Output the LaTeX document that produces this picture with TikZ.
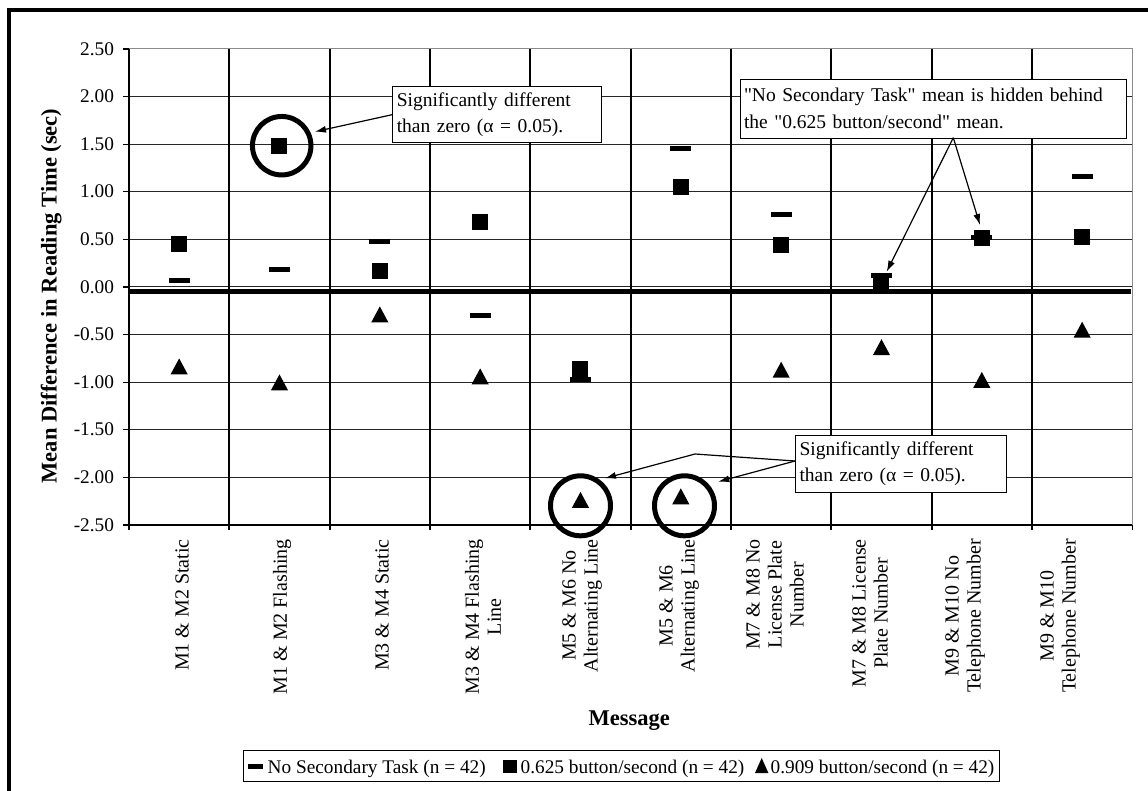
\documentclass[tikz,border=0pt]{standalone}
\usepackage{fontspec}
\setmainfont{Liberation Serif}
\usetikzlibrary{arrows.meta,calc}
\pgfmathdeclarefunction{vy}{1}{\pgfmathparse{286.9-95.2*(#1)}}
\pgfmathdeclarefunction{colx}{1}{\pgfmathparse{129+100.33*((#1)-0.5)}}
\newcommand{\qq}{\XeTeXglyph\XeTeXcharglyph"22\relax}
\tikzset{
  tri/.pic={\fill[black] (-8.6,8) -- (8.6,8) -- (0,-8) -- cycle;},
  legtri/.pic={\fill[black] (-6.7,7.5) -- (6.7,7.5) -- (0,-7.5) -- cycle;}
}
\begin{document}
\begin{tikzpicture}[x=1pt,y=-1pt,
  txt/.style={font=\fontsize{19.3}{21.7}\selectfont, inner sep=0pt, outer sep=0pt},
  ylab/.style={txt, anchor=east},
  catlab/.style={font=\fontsize{20}{22}\selectfont, inner sep=0pt, outer sep=0pt, rotate=90, anchor=east, align=center},
  note/.style={draw=black, line width=1pt, fill=white, anchor=north west, align=left,
    font=\fontsize{19.5}{26.7}\selectfont, inner ysep=0pt},
  gridline/.style={draw=black!85, line width=0.9pt},
  sepline/.style={draw=black, line width=1.8pt},
  dashmark/.style={rectangle, fill=black, minimum width=21pt, minimum height=5pt, inner sep=0pt},
  sqmark/.style={rectangle, fill=black, minimum size=16pt, inner sep=0pt},
  ring/.style={circle, draw=black, line width=5pt, minimum size=59pt, inner sep=0pt},
  arr/.style={draw=black, line width=1.2pt, -{Latex[length=11pt,width=7pt]}},
  ttl/.style={font=\bfseries\fontsize{22.5}{26}\selectfont, inner sep=0pt}
]
\useasboundingbox (0,0) rectangle (1148,790);
\fill[white] (0,0) rectangle (1148,790);
% outer frame (cut at right and bottom)
\draw[line width=4.2pt, line join=miter] (8.8,795) -- (8.8,10.3) -- (1152,10.3);

% horizontal grid lines
\foreach \v in {2,1.5,1,0.5,0,-0.5,-1,-1.5,-2}
  \draw[gridline] (129,{vy(\v)}) -- (1132,{vy(\v)});
% plot border (grey)
\draw[draw=black!45, line width=1pt] (129,{vy(2.5)}) -- (1132.3,{vy(2.5)}) -- (1132.3,{vy(-2.5)});
% category separators with ticks below axis
\foreach \k in {1,...,9}
  \draw[sepline] ({129+100.33*\k},{vy(2.5)}) -- ({129+100.33*\k},530);
\draw[line width=1.2pt] (1132.3,{vy(-2.5)}) -- (1132.3,530);
% axes
\draw[line width=1.6pt] (129,{vy(2.5)}) -- (129,530);
\draw[line width=1.2pt] (129,{vy(-2.5)}) -- (1132.3,{vy(-2.5)});
\foreach \v in {2.5,2,1.5,1,0.5,0,-0.5,-1,-1.5,-2,-2.5}
  \draw[line width=1.2pt] (123,{vy(\v)}) -- (129,{vy(\v)});

% y tick labels
\foreach \v/\l [count=\n] in {2.5/2.50,2/2.00,1.5/1.50,1/1.00,0.5/0.50,0/0.00,-0.5/-0.50,-1/-1.00,-1.5/-1.50,-2/-2.00,-2.5/-2.50}
  \node[ylab] (yl\n) at (114,{vy(\v)}) {\l};

% data markers: dash = no secondary task, square = 0.625, triangle = 0.909
\foreach \i/\d/\s/\t in {1/0.068/0.45/-0.835, 2/0.184/1.476/-1.003, 3/0.475/0.162/-0.289,
  4/-0.297/0.687/-0.94, 5/-0.97/-0.864/-2.237, 6/1.452/1.049/-2.2, 7/0.762/0.443/-0.87,
  8/0.12/0.03/-0.633, 9/0.515/0.515/-0.977, 10/1.16/0.52/-0.45}{
  \node[dashmark] (d\i) at ({colx(\i)},{vy(\d)}) {};
  \node[sqmark] (s\i) at ({colx(\i)},{vy(\s)}) {};
  \pic (t\i) at ({colx(\i)},{vy(\t)}) {tri};
}
% thick reference line
\draw[line width=4.7pt] (129,291.7) -- (1131,291.7);

% circles
\node[ring, minimum size=58.5pt] (r2) at (281.7,145.7) {};
\node[ring, minimum size=60pt] (r5) at (580.5,505.8) {};
\node[ring, minimum size=60pt] (r6) at (684.5,505.8) {};

% annotation boxes
\node[note, inner xsep=4pt, text width=200.4pt, minimum height=56.3pt] (nA) at (392.3,86)
  {Significantly different\\than zero (α = 0.05).};
\node[note, inner xsep=3.5pt, text width=378.7pt, minimum height=59pt] (nB) at (740,78.7)
  {\qq No Secondary Task\qq{} mean is hidden behind\\the \qq 0.625 button/second\qq{} mean.};
\node[note, inner xsep=4pt, text width=202.7pt, minimum height=56.7pt] (nC) at (795,435)
  {Significantly different\\than zero (α = 0.05).};

% arrows
\coordinate (tA) at (315,131.7);
\draw[arr] (nA.west) -- (tA);
\coordinate (bB) at (953.3,137.7);
\coordinate (tB1) at (886.7,271.7);
\coordinate (tB2) at (980,225);
\draw[arr] (bB) -- (tB1);
\draw[arr] (bB) -- (tB2);
\coordinate (cC) at (795,461);
\coordinate (kC) at (695,454);
\coordinate (tC1) at (605,478.3);
\coordinate (tC2) at (718.3,481.7);
\draw[arr] (cC) -- (kC) -- (tC1);
\draw[arr] (cC) -- (tC2);

% category labels
\node[catlab] (m1) at (182,539.3) {M1 \& M2 Static};
\node[catlab] (m2) at (282,539.3) {M1 \& M2 Flashing};
\node[catlab] (m3) at (382,539.3) {M3 \& M4 Static};
\node[catlab] (m4) at (483,539.3) {M3 \& M4 Flashing\\Line};
\node[catlab] (m5) at (582,539.3) {M5 \& M6 No\\Alternating Line};
\node[catlab] (m6) at (679,539.3) {M5 \& M6\\Alternating Line};
\node[catlab] (m7) at (775,539.3) {M7 \& M8 No\\License Plate\\Number};
\node[catlab] (m8) at (870,539.3) {M7 \& M8 License\\Plate Number};
\node[catlab] (m9) at (965,539.3) {M9 \& M10 No\\Telephone Number};
\node[catlab] (m10) at (1060,539.3) {M9 \& M10\\Telephone Number};

% axis titles
\node[ttl, rotate=90, anchor=base] (ytitle) at (56.7,296) {Mean Difference in Reading Time (sec)};
\node[ttl, anchor=base] (xtitle) at (629.3,725.7) {Message};

% legend
\node[draw=black, line width=1pt, minimum width=755.7pt, minimum height=30.7pt, anchor=north west, inner sep=0pt] (leg) at (243.3,750) {};
\fill[black] (248,764.4) rectangle (263,768.6);
\fill[black] (503.3,760) rectangle (516.7,773.3);
\pic (lt) at (761.7,765.5) {legtri};
\node[txt, anchor=base west] (l1) at (267.7,773) {No Secondary Task (n = 42)};
\node[txt, anchor=base west] (l2) at (520.7,773) {0.625 button/second (n = 42)};
\node[txt, anchor=base west] (l3) at (770.7,773) {0.909 button/second (n = 42)};
\end{tikzpicture}
\end{document}
